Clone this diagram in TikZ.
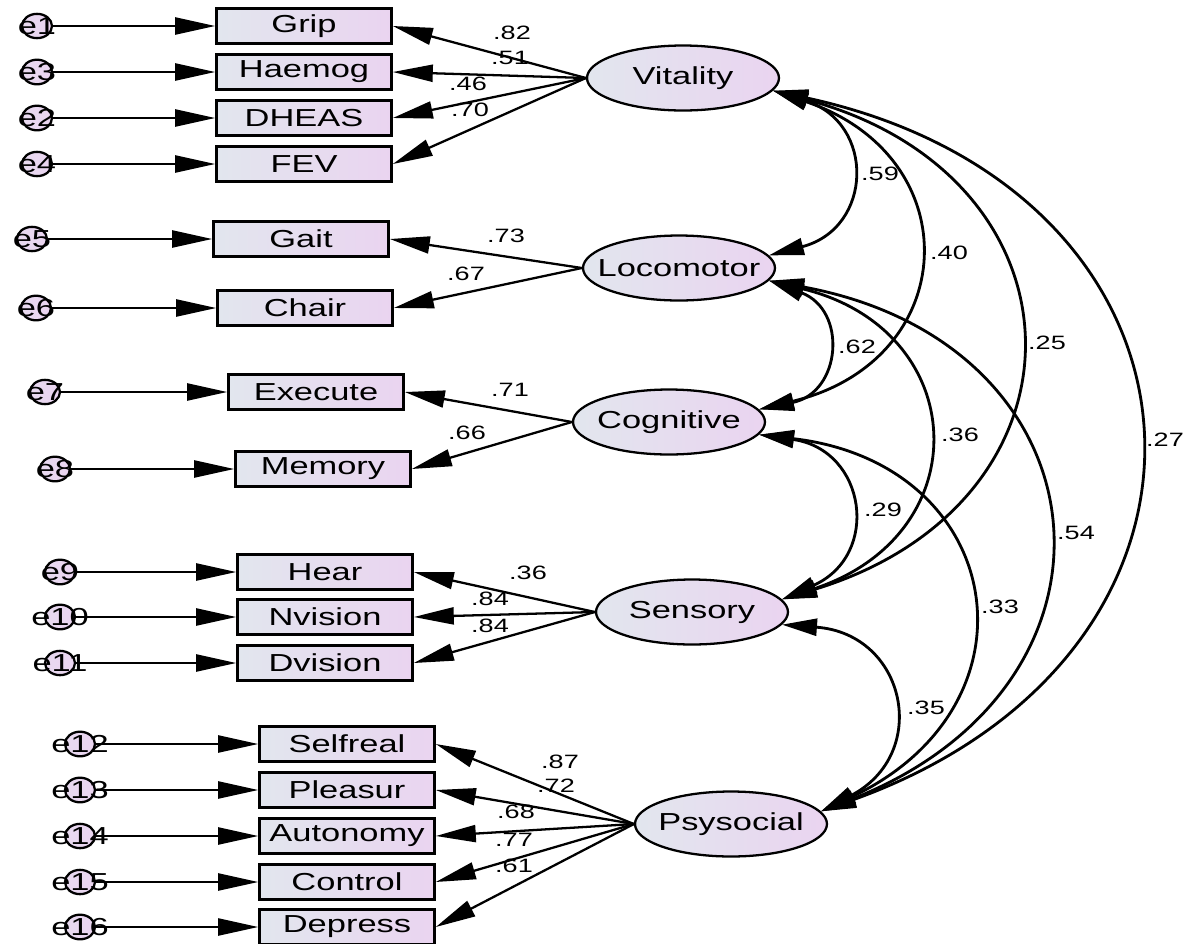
\documentclass[tikz,border=0pt]{standalone}
\usepackage{fontspec}
\setmainfont{Liberation Sans}[FakeStretch=1.4]
\usetikzlibrary{arrows.meta,shapes.geometric}
\definecolor{boxleft}{RGB}{226,230,238}
\definecolor{boxright}{RGB}{234,212,240}

\begin{document}
\begin{tikzpicture}[x=0.02cm,y=-0.02cm]

	\tikzstyle{obs} = [draw,line width=1.5pt,left color=boxleft,right color=boxright,minimum width=3.5cm,minimum height=0.7cm,inner sep=0pt,font=\fontsize{14}{14}\selectfont]
	\tikzstyle{lat} = [draw,ellipse,line width=1.3pt,left color=boxleft,right color=boxright,minimum width=3.84cm,minimum height=1.3cm,inner sep=0pt,font=\fontsize{14}{14}\selectfont]
	\tikzstyle{errvar} = [draw,ellipse,line width=1.3pt,left color=boxright!70!boxleft,right color=boxright,minimum width=0.6cm,minimum height=0.46cm,inner sep=0pt,font=\fontsize{14}{14}\selectfont]
	\tikzstyle{wt} = [inner sep=0pt,font=\fontsize{11}{11}\selectfont]
	\tikzstyle{errarr} = [line width=1.3pt,-{Triangle[length=0.8cm,width=0.34cm]}]
	\tikzstyle{loading} = [line width=1.3pt,-{Triangle[length=0.8cm,width=0.34cm]}]
	\tikzstyle{cov} = [line width=1.6pt,{Triangle[length=0.7cm,width=0.34cm]}-{Triangle[length=0.7cm,width=0.34cm]}]

	\useasboundingbox (0,0) rectangle (1188,944);

	% latent factors
	\foreach \nm/\lab/\x/\y in {vit/Vitality/683/78, loc/Locomotor/679/268, cog/Cognitive/669/422,
		sen/Sensory/692/612, psy/Psysocial/731/824}
		\node [lat] (\nm) at (\x,\y) {\makebox[0pt]{\lab}};

	% indicators with their error terms
	\foreach \nm/\lab/\e/\ex/\bx/\y in {grip/Grip/e1/37/304/26, haem/Haemog/e3/37/304/72,
		dheas/DHEAS/e2/37/304/118, fev/FEV/e4/37/304/164, gait/Gait/e5/32/301/239,
		chair/Chair/e6/36/305/308, exec/Execute/e7/45/316/392, mem/Memory/e8/55/323/469,
		hear/Hear/e9/60/325/572, nvis/Nvision/e10/60/325/617, dvis/Dvision/e11/60/325/663,
		self/Selfreal/e12/80/347/744, pleas/Pleasur/e13/80/347/790, auto/Autonomy/e14/80/347/836,
		ctrl/Control/e15/80/347/882, depr/Depress/e16/80/347/927} {
		\node [errvar] (\e) at (\ex,\y) {\makebox[0pt]{\e}};
		\node [obs] (\nm) at (\bx,\y) {\lab};
		\draw [errarr] (\e) -- (\nm);
	}

	% loadings
	\foreach \lv/\ov/\w/\lx/\ly in {vit/grip/.82/512/33, vit/haem/.51/510/58, vit/dheas/.46/468/84,
		vit/fev/.70/470/110, loc/gait/.73/506/236, loc/chair/.67/466/274, cog/exec/.71/510/390,
		cog/mem/.66/467/433, sen/hear/.36/528/573, sen/nvis/.84/490/599, sen/dvis/.84/490/626,
		psy/self/.87/560/762, psy/pleas/.72/556/786, psy/auto/.68/516/812, psy/ctrl/.77/514/840,
		psy/depr/.61/514/866} {
		\draw [loading] (\lv.west) -- (\ov.east);
		\node [wt] (w\ov) at (\lx,\ly) {\w};
	}

	% correlations between factors
	\foreach \a/\b/\w/\lx/\ly in {vit/loc/.59/880/174, vit/cog/.40/949/253, vit/sen/.25/1047/343,
		vit/psy/.27/1165/440, loc/cog/.62/857/347, loc/sen/.36/960/435, loc/psy/.54/1076/533,
		cog/sen/.29/883/510, cog/psy/.33/1000/607, sen/psy/.35/926/708} {
		\draw [cov] (\a.-8) to[bend left=74,looseness=1.67] (\b.8);
		\node [wt] (c\a\b) at (\lx,\ly) {\w};
	}

\end{tikzpicture}
\end{document}
